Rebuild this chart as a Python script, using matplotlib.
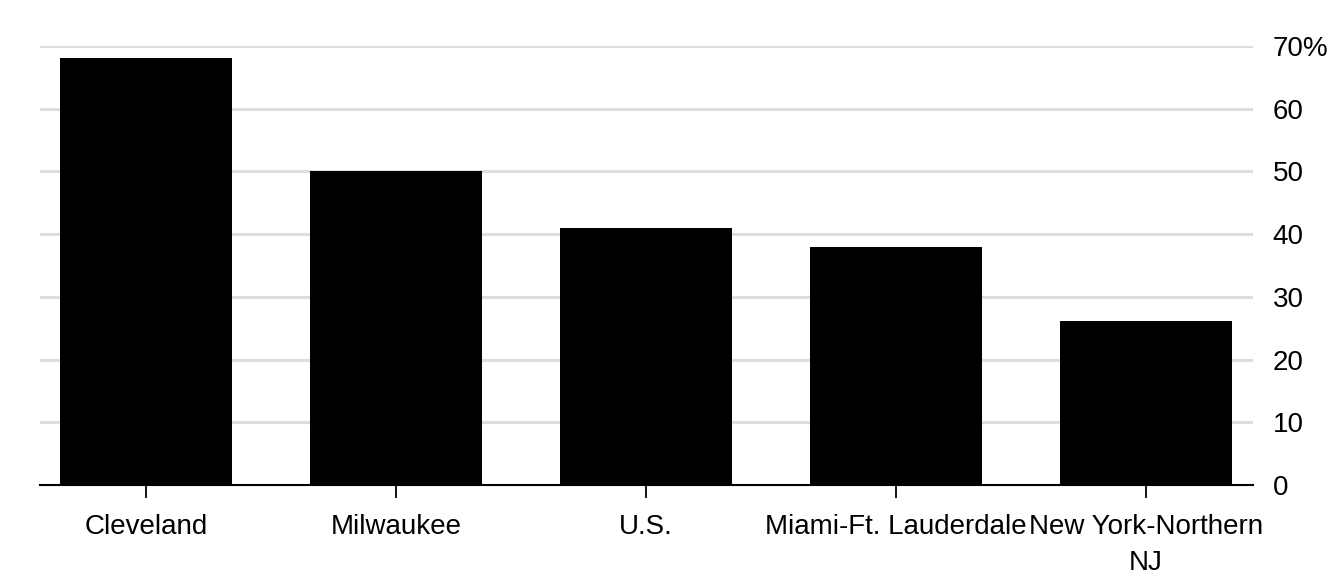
import matplotlib.pyplot as plt

# Data
cities = ['Cleveland', 'Milwaukee', 'U.S.', 'Miami-Ft. Lauderdale', 'New York-Northern\nNJ']
shares = [68.1, 50.0, 41.0, 38.0, 26.2]
y_ticks = [0, 10, 20, 30, 40, 50, 60, 70]
y_labels = ['0', '10', '20', '30', '40', '50', '60', '70%']

plt.rcParams['font.family'] = ['Liberation Sans', 'DejaVu Sans']

fig = plt.figure(figsize=(13.38, 5.84), dpi=100)
ax = fig.add_axes([40 / 1338, 99 / 584, 1213 / 1338, 439 / 584])

x = range(len(cities))
ax.bar(x, shares, width=0.688, color='black', zorder=3)

ax.set_xlim(-0.424, 4.428)
ax.set_ylim(0, 70)
ax.set_xticks(list(x))
ax.set_xticklabels(cities, fontsize=20, linespacing=1.5)
ax.set_yticks(y_ticks)
ax.set_yticklabels(y_labels, fontsize=20)

# Gridlines and axes styling
ax.grid(axis='y', color='#dddddd', linewidth=2.2, zorder=0)
ax.yaxis.tick_right()
ax.tick_params(axis='y', length=0, pad=14)
ax.tick_params(axis='x', length=9, width=1.3, color='black', pad=12)
for side in ['top', 'left', 'right']:
    ax.spines[side].set_visible(False)
ax.spines['bottom'].set_linewidth(1.5)
ax.spines['bottom'].set_zorder(4)

fig.savefig('out.png', dpi=100)
